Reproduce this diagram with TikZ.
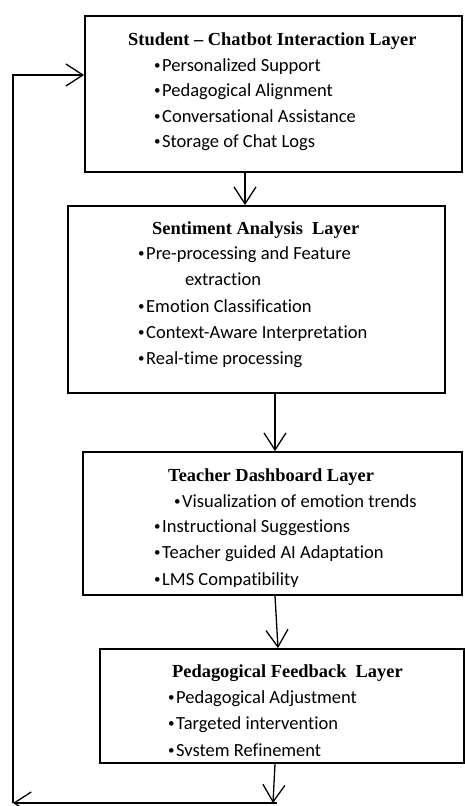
\documentclass[tikz,border=0pt]{standalone}
\usepackage{fontspec}
\setmainfont{Liberation Serif}
\newfontfamily\calfont[Ligatures=NoCommon]{Carlito}
\usetikzlibrary{arrows.meta}
\tikzset{
  layerbox/.style={draw, line width=1.8pt, inner sep=0pt},
  head/.style={anchor=base west, inner sep=0pt, font=\fontsize{18.4}{22}\selectfont\bfseries},
  item/.style={anchor=base west, inner sep=0pt, font=\fontsize{18.5}{22}\calfont},
  conn/.style={line width=1.3pt, -{Straight Barb[length=17pt,width=22pt,line width=1.3pt]}},
  plain/.style={line width=1.3pt}
}
\newcommand{\bul}{\makebox[8pt][l]{\raisebox{1.2pt}{\fontsize{13}{13}\selectfont\textbullet}}}
\begin{document}
\begin{tikzpicture}[x=1pt,y=-1pt]
\useasboundingbox (0,0) rectangle (465,806);
% boxes
\node[layerbox, minimum width=377pt, minimum height=156pt] (b1) at (273.5,94) {};
\node[layerbox, minimum width=377pt, minimum height=187pt] (b2) at (256.5,299.5) {};
\node[layerbox, minimum width=379pt, minimum height=143pt] (b3) at (272.5,523.5) {};
\node[layerbox, minimum width=364pt, minimum height=114pt] (b4) at (282,706) {};
% texts box 1
\node[head] (h1) at (128,45) {Student -- Chatbot Interaction Layer};
\node[item] (t11) at (154,71) {\bul Personalized Support};
\node[item] (t12) at (154,96) {\bul Pedagogical Alignment};
\node[item] (t13) at (154,122) {\bul Conversational Assistance};
\node[item] (t14) at (154,147) {\bul Storage of Chat Logs};
% box 2
\node[head] (h2) at (152,234) {Sentiment Analysis\ \ Layer};
\node[item] (t21) at (138,259) {\bul Pre-processing and Feature};
\node[item] (t22) at (185,285) {extraction};
\node[item] (t23) at (138,312) {\bul Emotion Classification};
\node[item] (t24) at (138,338) {\bul Context-Aware Interpretation};
\node[item] (t25) at (138,364) {\bul Real-time processing};
% box 3
\node[head] (h3) at (168,481) {Teacher Dashboard Layer};
\node[item] (t31) at (174,507) {\bul Visualization of emotion trends};
\node[item] (t32) at (154,532) {\bul Instructional Suggestions};
\node[item] (t33) at (154,558) {\bul Teacher guided AI Adaptation};
\begin{scope}
\clip (100,560) rectangle (460,586);
\node[item] (t34) at (154,585) {\bul LMS Compatibility};
\end{scope}
% box 4
\node[head] (h4) at (172,677) {Pedagogical Feedback\ \ Layer};
\node[item] (t41) at (168,703) {\bul Pedagogical Adjustment};
\node[item] (t42) at (168,729) {\bul Targeted intervention};
\begin{scope}
\clip (110,735) rectangle (460,755);
\node[item] (t43) at (168,756) {\bul System Refinement};
\end{scope}
% connector x positions
\coordinate (xa) at (245,0);
\coordinate (xb) at (275,0);
\coordinate (xc) at (278,0);
\coordinate (xd) at (273,0);
\coordinate (c1) at (277,803);
\coordinate (c2) at (13,803);
\coordinate (c3) at (13,75);
\draw[conn] (b1.south -| xa) -- (b2.north -| xa);
\draw[conn] (b2.south -| xb) -- (b3.north -| xb);
\draw[conn] (b3.south -| xb) -- (b4.north -| xc);
\draw[conn] (b4.south -| xb) -- (c1 -| xd);
\draw[conn] (c1) -- (c2);
\draw[conn] (c2) -- (c3) -- (b1.west |- c3);
\end{tikzpicture}
\end{document}
